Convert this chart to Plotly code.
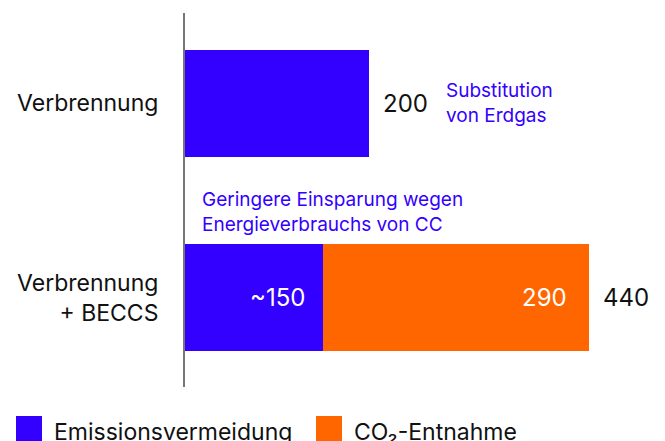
import plotly.graph_objects as go

categories = ["Verbrennung", "Verbrennung<br>+ BECCS"]
avoidance = [200, 150]
removal = [0, 290]
avoid_labels = ["", "~150"]
removal_labels = ["", "290"]
series_names = ["Emissionsvermeidung", "CO₂-Entnahme"]
note_substitution = "Substitution<br>von Erdgas"
note_energy = "Geringere Einsparung wegen<br>Energieverbrauchs von CC"

BLUE = "#3300FF"
ORANGE = "#FF6600"
FONT = "Inter"
W, H = 665, 441
ML, MR, MT, MB = 185, 0, 13, 54
PW, PH = W - ML - MR, H - MT - MB


def px_x(px):
    return (px - ML) / PW


def px_y(py):
    return (H - MB - py) / PH


totals = [a + r for a, r in zip(avoidance, removal)]

fig = go.Figure()
fig.add_trace(go.Bar(y=categories, x=avoidance, orientation="h", marker_color=BLUE,
                     marker_line_width=0, width=0.55, name=series_names[0],
                     showlegend=False, hoverinfo="skip"))
fig.add_trace(go.Bar(y=categories, x=removal, orientation="h", marker_color=ORANGE,
                     marker_line_width=0, width=0.55, name=series_names[1],
                     showlegend=False, hoverinfo="skip"))

ann = []
for cat, tot in zip(categories, totals):
    ann.append(dict(x=tot, y=cat, text=str(tot), xanchor="left", yanchor="middle",
                    xshift=12, showarrow=False, font=dict(family=FONT, size=24, color="#111111")))
for cat, a, lab in zip(categories, avoidance, avoid_labels):
    if lab:
        ann.append(dict(x=a, y=cat, text=lab, xanchor="right", yanchor="middle",
                        xshift=-16, showarrow=False, font=dict(family=FONT, size=24, color="white")))
for cat, a, r, lab in zip(categories, avoidance, removal, removal_labels):
    if lab:
        ann.append(dict(x=a + r, y=cat, text=lab, xanchor="right", yanchor="middle",
                        xshift=-20, showarrow=False, font=dict(family=FONT, size=24, color="white")))
ann.append(dict(x=avoidance[0], y=categories[0], text=note_substitution, xanchor="left",
                yanchor="middle", align="left", xshift=75, showarrow=False,
                font=dict(family=FONT, size=19, color=BLUE)))
ann.append(dict(x=0, y=categories[1], text=note_energy, xanchor="left",
                yanchor="middle", align="left", xshift=15, yshift=86, showarrow=False,
                font=dict(family=FONT, size=19, color=BLUE)))

# legend (drawn manually to get the large square swatches)
shapes = []
legend_x = [16, 316]
for name, col, lx in zip(series_names, [BLUE, ORANGE], legend_x):
    shapes.append(dict(type="rect", xref="paper", yref="paper",
                       x0=px_x(lx), x1=px_x(lx + 26), y0=px_y(442), y1=px_y(416),
                       fillcolor=col, line=dict(width=0), layer="above"))
    ann.append(dict(xref="paper", yref="paper", x=px_x(lx + 36), y=px_y(432), text=name,
                    xanchor="left", yanchor="middle", showarrow=False,
                    font=dict(family=FONT, size=23, color="#111111")))

fig.update_layout(
    width=W, height=H,
    margin=dict(l=ML, r=MR, t=MT, b=MB),
    barmode="stack",
    showlegend=False,
    paper_bgcolor="white", plot_bgcolor="white",
    font=dict(family=FONT, color="#111111"),
    xaxis=dict(visible=False, range=[0, 523], showgrid=False, zeroline=False),
    yaxis=dict(type="category", range=[1.46, -0.465], showline=True, linecolor="#777777",
               linewidth=2, ticks="", ticklabelstandoff=20, showgrid=False, zeroline=False,
               tickfont=dict(family=FONT, size=23, color="#111111")),
    annotations=ann,
    shapes=shapes,
)

fig.write_html("out.html")
